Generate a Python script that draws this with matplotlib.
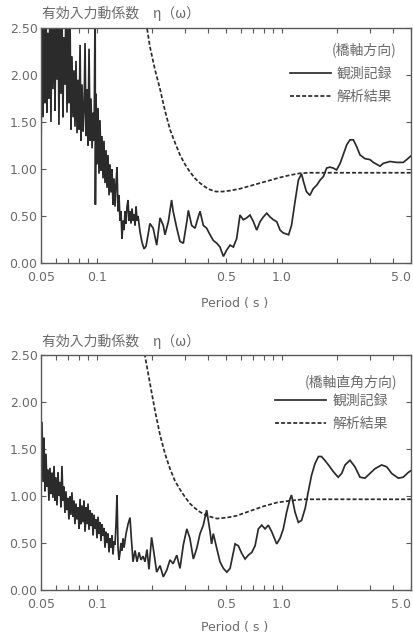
import matplotlib
matplotlib.use("Agg")
import matplotlib.pyplot as plt
from matplotlib.ticker import FixedLocator, FixedFormatter

plt.rcParams['font.family'] = ['DejaVu Sans']
CJK = ['Noto Sans CJK JP', 'DejaVu Sans']

# ---- data -------------------------------------------------------------
# longitudinal direction (橋軸方向): observed record
long_obs_period = [
    0.0500, 0.0506, 0.0513, 0.0519, 0.0525, 0.0532, 0.0538, 0.0545, 0.0552, 0.0559,
    0.0566, 0.0573, 0.0580, 0.0588, 0.0595, 0.0602, 0.0610, 0.0618, 0.0625, 0.0633,
    0.0641, 0.0649, 0.0657, 0.0665, 0.0674, 0.0682, 0.0691, 0.0700, 0.0708, 0.0717,
    0.0726, 0.0735, 0.0745, 0.0754, 0.0763, 0.0773, 0.0783, 0.0793, 0.0803, 0.0813,
    0.0823, 0.0833, 0.0844, 0.0854, 0.0865, 0.0876, 0.0887, 0.0898, 0.0909, 0.0921,
    0.0932, 0.0944, 0.0956, 0.0968, 0.0981, 0.0984, 0.0992,
    0.1004, 0.1017, 0.1029, 0.1042, 0.1055, 0.1068, 0.1082, 0.1095, 0.1109, 0.1123,
    0.1137, 0.1151, 0.1166, 0.1180, 0.1195, 0.1210, 0.1225, 0.1240, 0.1256, 0.1272,
    0.1288, 0.1304, 0.1320, 0.1337, 0.1353, 0.1370, 0.1388, 0.1405, 0.1423, 0.1441,
    0.1459, 0.1477, 0.1496, 0.1514, 0.1533, 0.1552, 0.1572, 0.1592, 0.1612, 0.1632,
    0.1652, 0.1673, 0.1715, 0.1758, 0.1803, 0.1848, 0.1895,
    0.194, 0.202, 0.211, 0.220, 0.229, 0.234, 0.244, 0.254, 0.259, 0.271,
    0.282, 0.294, 0.307, 0.313, 0.326, 0.340, 0.354, 0.362, 0.377, 0.393,
    0.410, 0.427, 0.446, 0.464, 0.484, 0.505, 0.526, 0.548, 0.571, 0.595,
    0.620, 0.647, 0.674, 0.703, 0.733, 0.764, 0.796, 0.830, 0.865, 0.902,
    0.940, 0.980, 1.02, 1.09, 1.13, 1.18, 1.23, 1.28, 1.31, 1.36,
    1.42, 1.48, 1.55, 1.61, 1.68, 1.75, 1.82, 1.90, 1.98, 2.07,
    2.15, 2.25, 2.34, 2.44, 2.54, 2.65, 2.82, 3.00, 3.13, 3.40,
    3.54, 3.85, 4.19, 4.54, 4.74, 5.00,
]
long_obs_eta = [
    1.07, 2.80, 1.55, 2.60, 1.70, 2.90, 1.60, 2.45, 1.75, 2.80,
    1.50, 2.70, 1.85, 2.90, 1.62, 2.55, 1.95, 2.80, 1.47, 2.60,
    1.80, 2.75, 1.55, 2.40, 1.90, 2.85, 1.60, 2.50, 1.70, 2.70,
    1.42, 2.20, 1.55, 2.05, 1.45, 2.15, 1.38, 1.95, 1.42, 2.32,
    1.30, 1.90, 1.40, 1.60, 2.34, 1.35, 1.85, 1.25, 2.28, 1.30,
    1.75, 1.22, 1.60, 1.30, 2.80, 0.62, 1.80,
    1.05, 1.65, 0.95, 1.52, 0.98, 1.35, 0.90, 1.30, 0.85, 1.20,
    0.80, 1.15, 0.72, 1.05, 0.75, 1.00, 0.62, 0.90, 0.60, 0.85,
    1.02, 0.55, 0.72, 0.45, 0.55, 0.26, 0.45, 0.35, 0.55, 0.42,
    0.60, 0.67, 0.45, 0.55, 0.42, 0.58, 0.45, 0.52, 0.40, 0.60,
    0.45, 0.50, 0.33, 0.22, 0.15, 0.18, 0.30,
    0.42, 0.37, 0.19, 0.48, 0.40, 0.30, 0.44, 0.67, 0.55, 0.37,
    0.23, 0.21, 0.44, 0.56, 0.40, 0.37, 0.49, 0.55, 0.40, 0.37,
    0.30, 0.24, 0.21, 0.17, 0.07, 0.14, 0.19, 0.17, 0.26, 0.51,
    0.46, 0.48, 0.51, 0.44, 0.35, 0.44, 0.49, 0.53, 0.49, 0.46,
    0.44, 0.35, 0.32, 0.30, 0.40, 0.65, 0.88, 0.95, 0.87, 0.76,
    0.72, 0.79, 0.83, 0.88, 0.92, 1.01, 1.02, 1.01, 0.99, 1.06,
    1.15, 1.26, 1.31, 1.31, 1.24, 1.15, 1.11, 1.10, 1.07, 1.03,
    1.06, 1.08, 1.07, 1.07, 1.10, 1.14,
]

# longitudinal direction: analysis result
long_ana_period = [
    0.170, 0.187, 0.194, 0.207, 0.220, 0.234, 0.249, 0.265, 0.282, 0.300,
    0.319, 0.340, 0.362, 0.385, 0.410, 0.441, 0.481, 0.526, 0.595, 0.674,
    0.764, 0.865, 0.980, 1.11, 1.26, 1.42, 5.00,
]
long_ana_eta = [
    2.90, 2.50, 2.30, 2.05, 1.85, 1.62, 1.42, 1.28, 1.15, 1.05,
    0.97, 0.90, 0.85, 0.81, 0.78, 0.76, 0.76, 0.77, 0.79, 0.82,
    0.85, 0.88, 0.91, 0.935, 0.955, 0.96, 0.96,
]

# transverse direction (橋軸直角方向): observed record
trans_obs_period = [
    0.0500, 0.0506, 0.0513, 0.0519, 0.0525, 0.0532, 0.0538, 0.0545, 0.0552, 0.0559,
    0.0566, 0.0573, 0.0580, 0.0588, 0.0595, 0.0602, 0.0610, 0.0618, 0.0625, 0.0633,
    0.0641, 0.0649, 0.0657, 0.0665, 0.0674, 0.0682, 0.0691, 0.0700, 0.0708, 0.0717,
    0.0726, 0.0735, 0.0745, 0.0754, 0.0763, 0.0773, 0.0783, 0.0793, 0.0803, 0.0813,
    0.0823, 0.0833, 0.0844, 0.0854, 0.0865, 0.0876, 0.0887, 0.0898, 0.0909, 0.0921,
    0.0932, 0.0944, 0.0956, 0.0968, 0.0980, 0.0992,
    0.1004, 0.1017, 0.1029, 0.1042, 0.1055, 0.1068, 0.1082, 0.1095, 0.1109, 0.1123,
    0.1137, 0.1151, 0.1166, 0.1180, 0.1195, 0.1210, 0.1225, 0.1240, 0.1256, 0.1272,
    0.1288, 0.1304, 0.1320, 0.1337, 0.1353, 0.1370, 0.1388, 0.1405, 0.1441, 0.1477,
    0.1514, 0.1533, 0.1572, 0.1612, 0.1652, 0.1694, 0.1736, 0.1780, 0.1824, 0.1870,
    0.1917,
    0.198, 0.202, 0.211, 0.220, 0.229, 0.239, 0.249, 0.259, 0.271, 0.282,
    0.294, 0.307, 0.319, 0.333, 0.347, 0.362, 0.377, 0.393, 0.410, 0.418,
    0.427, 0.446, 0.464, 0.484, 0.505, 0.526, 0.548, 0.560, 0.583, 0.608,
    0.634, 0.660, 0.689, 0.718, 0.748, 0.780, 0.813, 0.847, 0.883, 0.940,
    0.980, 1.02, 1.064, 1.109, 1.13, 1.18, 1.23, 1.28, 1.34, 1.39,
    1.45, 1.51, 1.58, 1.64, 1.71, 1.79, 1.90, 2.02, 2.11, 2.20,
    2.34, 2.49, 2.65, 2.82, 3.00, 3.19, 3.47, 3.70, 3.93, 4.27,
    4.54, 4.83, 5.00,
]
trans_obs_eta = [
    1.00, 1.79, 1.15, 1.62, 1.05, 1.45, 1.10, 1.28, 0.95, 1.30,
    1.02, 1.25, 0.98, 1.32, 0.95, 1.20, 0.90, 1.25, 1.00, 1.15,
    0.88, 1.32, 0.95, 1.10, 0.82, 1.05, 0.85, 0.98, 0.75, 1.00,
    0.80, 1.04, 0.78, 0.95, 0.70, 0.92, 0.75, 0.88, 0.65, 0.97,
    0.70, 0.90, 0.72, 0.95, 0.62, 0.88, 0.70, 0.92, 0.64, 0.85,
    0.68, 0.82, 0.58, 0.80, 0.65, 0.75,
    0.55, 0.78, 0.60, 0.72, 0.52, 0.70, 0.58, 0.66, 0.45, 0.62,
    0.50, 0.60, 0.40, 0.55, 0.45, 0.58, 0.38, 0.52, 0.48, 0.70,
    1.01, 0.45, 0.32, 0.40, 0.50, 0.42, 0.55, 0.45, 0.60, 0.70,
    0.77, 0.60, 0.30, 0.42, 0.30, 0.40, 0.32, 0.36, 0.30, 0.43,
    0.22,
    0.56, 0.45, 0.19, 0.26, 0.14, 0.21, 0.32, 0.28, 0.37, 0.23,
    0.48, 0.65, 0.55, 0.33, 0.44, 0.60, 0.69, 0.85, 0.62, 0.49,
    0.60, 0.44, 0.30, 0.23, 0.19, 0.23, 0.40, 0.49, 0.47, 0.39,
    0.33, 0.37, 0.40, 0.47, 0.65, 0.69, 0.65, 0.69, 0.62, 0.49,
    0.55, 0.65, 0.83, 0.97, 1.01, 0.83, 0.72, 0.74, 0.87, 1.04,
    1.22, 1.34, 1.42, 1.42, 1.38, 1.33, 1.26, 1.20, 1.24, 1.33,
    1.38, 1.31, 1.20, 1.19, 1.24, 1.29, 1.33, 1.31, 1.24, 1.19,
    1.20, 1.25, 1.27,
]

# transverse direction: analysis result
trans_ana_period = [
    0.170, 0.182, 0.194, 0.207, 0.220, 0.234, 0.249, 0.265, 0.282, 0.300,
    0.319, 0.340, 0.362, 0.393, 0.446, 0.505, 0.571, 0.674, 0.796, 0.940,
    1.109, 1.31, 5.00,
]
trans_ana_eta = [
    2.90, 2.50, 2.20, 1.90, 1.65, 1.45, 1.29, 1.16, 1.07, 0.99,
    0.92, 0.87, 0.83, 0.79, 0.76, 0.77, 0.79, 0.84, 0.89, 0.93,
    0.95, 0.965, 0.965,
]

x_ticks = [0.05, 0.06, 0.07, 0.08, 0.09, 0.1, 0.2, 0.3, 0.4, 0.5,
           0.6, 0.7, 0.8, 0.9, 1.0, 2.0, 3.0, 4.0, 5.0]
x_tick_labels = ['0.05', '', '', '', '', '0.1', '', '', '', '0.5',
                 '', '', '', '', '1.0', '', '', '', '5.0']
y_ticks = [0.0, 0.5, 1.0, 1.5, 2.0, 2.5]
y_tick_labels = ['0.00', '0.50', '1.00', '1.50', '2.00', '2.50']

title_text = '有効入力動係数　η（ω）'
xlabel_text = 'Period ( s )'
legend_obs = '観測記録'
legend_ana = '解析結果'
direction_long = '(橋軸方向)'
direction_trans = '(橋軸直角方向)'

# ---- style ------------------------------------------------------------
LINE = '#2b2b2b'
TEXT = '#6a6a6a'
SPINE = '#5a5a5a'
LW = 1.25
DASH = (2.3, 1.2)

W, H = 413, 637
fig = plt.figure(figsize=(W / 100, H / 100), dpi=100)
fig.patch.set_facecolor('white')


def make_axes(top_px):
    left, right, bottom_px = 41, 411, top_px + 235
    return fig.add_axes([left / W, 1 - bottom_px / H, (right - left) / W, 235 / H])


def style_axes(ax):
    ax.set_xscale('log')
    ax.set_xlim(0.05, 5.0)
    ax.set_ylim(0, 2.5)
    ax.xaxis.set_major_locator(FixedLocator(x_ticks))
    ax.xaxis.set_major_formatter(FixedFormatter(x_tick_labels))
    ax.xaxis.set_minor_locator(FixedLocator([]))
    ax.yaxis.set_major_locator(FixedLocator(y_ticks))
    ax.yaxis.set_major_formatter(FixedFormatter(y_tick_labels))
    ax.tick_params(axis='both', which='both', direction='in', top=True, right=True,
                   length=3.5, width=0.8, color=SPINE, labelcolor=TEXT, labelsize=9)
    ax.tick_params(axis='x', pad=6)
    ax.tick_params(axis='y', pad=2.5)
    for s in ax.spines.values():
        s.set_color(SPINE)
        s.set_linewidth(1.0)
    labels = ax.get_xticklabels()
    labels[-1].set_horizontalalignment('right')


def draw_legend(ax, title, xs0, xs1, xt, yt, y1, y2):
    ax.text(0.962, yt, title, transform=ax.transAxes, ha='right', va='center',
            fontsize=10, color=TEXT, family=CJK)
    ax.plot([xs0, xs1], [y1, y1], transform=ax.transAxes, color=LINE, lw=LW,
            clip_on=False)
    ax.plot([xs0, xs1], [y2, y2], transform=ax.transAxes, color=LINE, lw=LW,
            dashes=DASH, clip_on=False)
    ax.text(xt, y1 - 0.005, legend_obs, transform=ax.transAxes, ha='left', va='center',
            fontsize=10, color=TEXT, family=CJK)
    ax.text(xt, y2 - 0.003, legend_ana, transform=ax.transAxes, ha='left', va='center',
            fontsize=10, color=TEXT, family=CJK)


# top panel: longitudinal direction
ax1 = make_axes(28)
ax1.plot(long_obs_period, long_obs_eta, color=LINE, lw=LW, solid_joinstyle='miter')
ax1.plot(long_ana_period, long_ana_eta, color=LINE, lw=LW, dashes=DASH)
style_axes(ax1)
draw_legend(ax1, direction_long, 0.673, 0.783, 0.800, 0.906, 0.809, 0.711)
fig.text(42 / W, 1 - 13 / H, title_text, ha='left', va='center', fontsize=10,
         color=TEXT, family=CJK)
fig.text(235 / W, 1 - 303 / H, xlabel_text, ha='center', va='center', fontsize=9,
         color=TEXT)

# bottom panel: transverse direction
ax2 = make_axes(355)
ax2.plot(trans_obs_period, trans_obs_eta, color=LINE, lw=LW, solid_joinstyle='miter')
ax2.plot(trans_ana_period, trans_ana_eta, color=LINE, lw=LW, dashes=DASH)
style_axes(ax2)
draw_legend(ax2, direction_trans, 0.632, 0.770, 0.789, 0.885, 0.809, 0.711)
fig.text(42 / W, 1 - 341 / H, title_text, ha='left', va='center', fontsize=10,
         color=TEXT, family=CJK)
fig.text(235 / W, 1 - 628 / H, xlabel_text, ha='center', va='center', fontsize=9,
         color=TEXT)

fig.savefig('out.png', dpi=100, facecolor='white')
